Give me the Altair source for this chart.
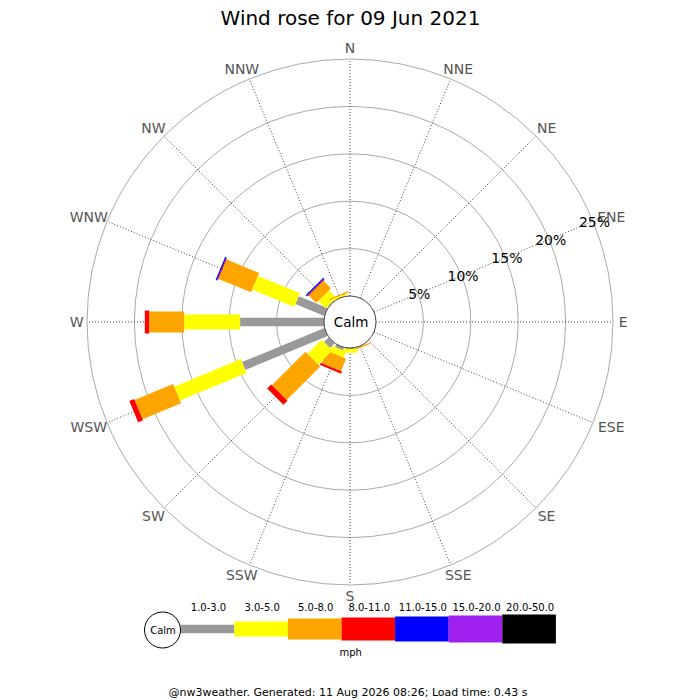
import altair as alt
import pandas as pd

# ---------------- data ----------------
directions = ["N", "NNE", "NE", "ENE", "E", "ESE", "SE", "SSE",
              "S", "SSW", "SW", "WSW", "W", "WNW", "NW", "NNW"]
bands = ["1.0-3.0", "3.0-5.0", "5.0-8.0", "8.0-11.0",
         "11.0-15.0", "15.0-20.0", "20.0-50.0"]
band_colors = ["#999999", "#ffff00", "#ffa500", "#ff0000",
               "#0000ff", "#a020f0", "#000000"]
band_widths = [8.5, 15, 21, 23, 25, 27, 29]

# percent of time, per direction (N..NNW), per speed band (mph)
freq_1_3 = [0, 0, 0, 0, 0, 0, 0, 0, 0.1, 0.3, 0.7, 9.4, 8.85, 3.3, 0.1, 0]
freq_3_5 = [0, 0, 0, 0, 0, 0, 0, 0.05, 0.4, 0.7, 2.1, 7.6, 5.9, 4.8, 1.1, 0.2]
freq_5_8 = [0, 0, 0, 0, 0, 0, 0, 0.15, 0, 1.4, 5.0, 4.4, 3.7, 3.7, 1.1, 0.15]
freq_8_11 = [0, 0, 0, 0, 0, 0, 0, 0, 0, 0.25, 0.6, 0.55, 0.45, 0.1, 0.1, 0]
freq_11_15 = [0, 0, 0, 0, 0, 0, 0, 0, 0, 0, 0, 0, 0, 0.15, 0.15, 0]
freq_15_20 = [0] * 16
freq_20_50 = [0] * 16
band_series = [freq_1_3, freq_3_5, freq_5_8, freq_8_11,
               freq_11_15, freq_15_20, freq_20_50]

ring_pcts = [5, 10, 15, 20, 25]
ring_labels = ["5%", "10%", "15%", "20%", "25%"]

title_text = "Wind rose for 09 Jun 2021"
footer_text = "@nw3weather. Generated: 11 Aug 2026 08:26; Load time: 0.43 s"
unit_text = "mph"
calm_text = "Calm"

# ---------------- layout constants (page pixels) ----------------
CX, CY = 350, 322          # rose centre
R0 = 26                    # radius of the calm circle (0 %)
K = 9.48                   # px per percent
RMAX_PCT = 25
LABEL_R = 268.5
LABEL_ANGLE = 67.5
LEG_X0, LEG_W, LEG_Y = 180.7, 53.6, 629

# ---------------- tables ----------------
seg_rows = []
for i, d in enumerate(directions):
    cum = 0.0
    for j, b in enumerate(bands):
        v = band_series[j][i]
        if v > 0:
            seg_rows.append(dict(dir=d, ang=i * 22.5, band=b,
                                 start=cum, end=cum + v))
        cum += v
seg_df = pd.DataFrame(seg_rows)

dir_df = pd.DataFrame(dict(dir=directions,
                           ang=[i * 22.5 for i in range(16)]))
ring_df = pd.DataFrame(dict(pct=ring_pcts, label=ring_labels))
leg_df = pd.DataFrame(dict(band=bands, idx=list(range(len(bands)))))

XS = alt.Scale(domain=[8, 692], nice=False, zero=False)
YS = alt.Scale(domain=[8, 700], nice=False, zero=False, reverse=True)


def X(f):
    return alt.X(f, type="quantitative", scale=XS, axis=None)


def Y(f):
    return alt.Y(f, type="quantitative", scale=YS, axis=None)


color_scale = alt.Scale(type="ordinal", domain=bands, range=band_colors)
width_scale = alt.Scale(type="ordinal", domain=bands, range=band_widths)

# rings
rings = alt.Chart(ring_df).transform_calculate(
    r=f"{R0} + {K} * datum.pct",
    size="pow(2 * datum.r, 2)",
    cx=f"{CX}", cy=f"{CY}"
).mark_point(shape="circle", filled=False, stroke="#aaaaaa",
             strokeWidth=1, opacity=1).encode(
    x=X("cx"), y=Y("cy"), size=alt.Size("size:Q", scale=None)
)

# spokes
spokes = alt.Chart(dir_df).transform_calculate(
    rad="datum.ang * PI / 180",
    x0=f"{CX} + {R0} * sin(datum.rad)",
    y0=f"{CY} - {R0} * cos(datum.rad)",
    x1=f"{CX} + ({R0} + {K} * {RMAX_PCT}) * sin(datum.rad)",
    y1=f"{CY} - ({R0} + {K} * {RMAX_PCT}) * cos(datum.rad)",
).mark_rule(color="#444444", strokeWidth=1, strokeDash=[1, 2]).encode(
    x=X("x0"), y=Y("y0"), x2="x1:Q", y2="y1:Q"
)

# bars
bars = alt.Chart(seg_df).transform_calculate(
    rad="datum.ang * PI / 180",
    ra=f"{R0} + {K} * datum.start",
    rb=f"{R0} + {K} * datum.end",
    x0=f"{CX} + datum.ra * sin(datum.rad)",
    y0=f"{CY} - datum.ra * cos(datum.rad)",
    x1=f"{CX} + datum.rb * sin(datum.rad)",
    y1=f"{CY} - datum.rb * cos(datum.rad)",
).mark_rule(strokeCap="butt").encode(
    x=X("x0"), y=Y("y0"), x2="x1:Q", y2="y1:Q",
    color=alt.Color("band:N", scale=color_scale, legend=None),
    strokeWidth=alt.StrokeWidth("band:N", scale=width_scale, legend=None),
)

# calm circle
calm_df = pd.DataFrame(dict(label=[calm_text]))
calm = alt.Chart(calm_df).transform_calculate(
    cx=f"{CX}", cy=f"{CY}", size=f"pow(2 * {R0}, 2)"
).mark_point(shape="circle", filled=True, fill="white", stroke="#444444",
             strokeWidth=1, opacity=1, fillOpacity=1).encode(
    x=X("cx"), y=Y("cy"), size=alt.Size("size:Q", scale=None)
)
calm_lbl = alt.Chart(calm_df).transform_calculate(
    cx=f"{CX} + 1", cy=f"{CY} + 5.2"
).mark_text(font="DejaVu Sans", fontSize=13.5, color="black",
            baseline="alphabetic", align="center").encode(
    x=X("cx"), y=Y("cy"), text="label:N"
)

# direction labels (pushed outward by half their size)
dir_lbl = alt.Chart(dir_df).transform_calculate(
    rad="datum.ang * PI / 180",
    x=f"{CX} + ({LABEL_R} + length(datum.dir) * 4.75) * sin(datum.rad)",
    y=f"{CY} - ({LABEL_R} + 5.5) * cos(datum.rad) + 5.1",
).mark_text(font="DejaVu Sans", fontSize=14, color="#555555",
            baseline="alphabetic", align="center").encode(
    x=X("x"), y=Y("y"), text="dir:N"
)

# ring labels
ring_lbl = alt.Chart(ring_df).transform_calculate(
    rad=f"{LABEL_ANGLE} * PI / 180",
    r=f"{R0} + {K} * datum.pct",
    x=f"{CX} + datum.r * sin(datum.rad) + 1.5",
    y=f"{CY} - datum.r * cos(datum.rad) + 5.3",
).mark_text(font="DejaVu Sans", fontSize=14, color="black",
            baseline="alphabetic", align="center").encode(
    x=X("x"), y=Y("y"), text="label:N"
)

# title / footer / unit
txt_df = pd.DataFrame(dict(
    t=[title_text, footer_text, unit_text],
    x=[350.5, 348, 350.7],
    y=[25, 696, 656.3],
    s=[20, 11, 10],
))
texts = alt.Chart(txt_df).mark_text(
    font="DejaVu Sans", color="black", baseline="alphabetic", align="center"
).encode(x=X("x"), y=Y("y"), text="t:N",
         size=alt.Size("s:Q", scale=None))

# legend
leg_bars = alt.Chart(leg_df).transform_calculate(
    x0=f"{LEG_X0} + datum.idx * {LEG_W}",
    x1=f"{LEG_X0} + (datum.idx + 1) * {LEG_W}",
    y=f"{LEG_Y}",
).mark_rule(strokeCap="butt").encode(
    x=X("x0"), x2="x1:Q", y=Y("y"),
    color=alt.Color("band:N", scale=color_scale, legend=None),
    strokeWidth=alt.StrokeWidth("band:N", scale=width_scale, legend=None),
)
leg_lbl = alt.Chart(leg_df).transform_calculate(
    x=f"{LEG_X0} + (datum.idx + 0.5) * {LEG_W} + 1",
    y="610.7",
).mark_text(font="DejaVu Sans", fontSize=10, color="black",
            baseline="alphabetic", align="center").encode(
    x=X("x"), y=Y("y"), text="band:N"
)
leg_calm = alt.Chart(calm_df).transform_calculate(
    cx="162.5", cy="630", size="pow(36, 2)"
).mark_point(shape="circle", filled=True, fill="white", stroke="black",
             strokeWidth=1, opacity=1, fillOpacity=1).encode(
    x=X("cx"), y=Y("cy"), size=alt.Size("size:Q", scale=None)
)
leg_calm_lbl = alt.Chart(calm_df).transform_calculate(
    cx="163", cy="634"
).mark_text(font="DejaVu Sans", fontSize=10, color="black",
            baseline="alphabetic", align="center").encode(
    x=X("cx"), y=Y("cy"), text="label:N"
)

chart = alt.layer(
    rings, spokes, bars, calm, calm_lbl, dir_lbl, ring_lbl, texts,
    leg_bars, leg_calm, leg_calm_lbl, leg_lbl
).properties(
    width=684, height=692, padding=0, autosize="none"
).configure_view(stroke=None)

chart.save("out.html", embed_options={"renderer": "svg", "actions": False})
